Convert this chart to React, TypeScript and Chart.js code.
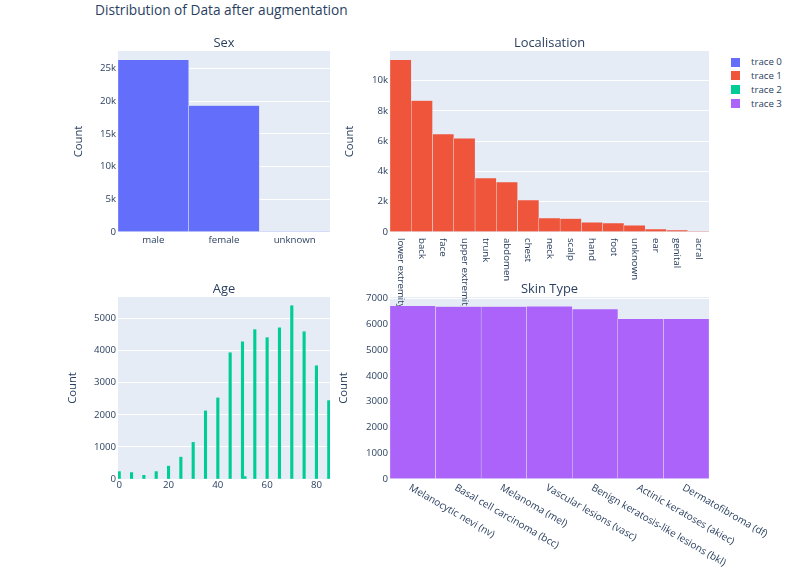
import React, { useEffect, useRef } from 'react';
import { Chart, registerables } from 'chart.js';

Chart.register(...registerables);

const FONT = "'Open Sans', verdana, arial, sans-serif";
const TEXT = '#2a3f5f';
const PLOT_BG = '#E5ECF6';
const TICK_SIZE = 9.66;
const ANGLED_TICK_SIZE = 10;
const SUBTITLE_SIZE = 12.9;
const AXIS_TITLE_SIZE = 11.27;
const MAIN_TITLE_SIZE = 13.7;

const mainTitle = 'Distribution of Data after augmentation';
const traceNames = ['trace 0', 'trace 1', 'trace 2', 'trace 3'];
const traceColors = ['#636efa', '#EF553B', '#00cc96', '#ab63fa'];
const subplotTitles = ['Sex', 'Localisation', 'Age', 'Skin Type'];

const sexLabels = ['male', 'female', 'unknown'];
const sexCounts = [26300, 19320, 80];
const sexYMax = 27650;
const sexYTicks = [0, 5000, 10000, 15000, 20000, 25000];

const locLabels = [
  'lower extremity', 'back', 'face', 'upper extremity', 'trunk', 'abdomen', 'chest',
  'neck', 'scalp', 'hand', 'foot', 'unknown', 'ear', 'genital', 'acral',
];
const locCounts = [11370, 8680, 6460, 6180, 3560, 3300, 2110, 920, 880, 640, 590, 440, 200, 130, 30];
const locYMax = 11950;
const locYTicks = [0, 2000, 4000, 6000, 8000, 10000];

const ageValues = [0, 5, 10, 15, 20, 25, 30, 35, 40, 45, 50, 51, 55, 60, 65, 70, 75, 80, 85];
const ageCounts = [230, 200, 115, 230, 400, 680, 1140, 2120, 2525, 3930, 4270, 75, 4650, 4400, 4710, 5395, 4585, 3525, 2440];
const ageXMin = -0.5;
const ageXMax = 85.5;
const ageXTicks = [0, 20, 40, 60, 80];
const ageYMax = 5667;
const ageYTicks = [0, 1000, 2000, 3000, 4000, 5000];

const skinLabels = [
  'Melanocytic nevi (nv)', 'Basal cell carcinoma (bcc)', 'Melanoma (mel)', 'Vascular lesions (vasc)',
  'Benign keratosis-like lesions (bkl)', 'Actinic keratoses (akiec)', 'Dermatofibroma (df)',
];
const skinCounts = [6728, 6690, 6690, 6700, 6598, 6222, 6222];
const skinYMax = 7066;
const skinYTicks = [0, 1000, 2000, 3000, 4000, 5000, 6000, 7000];

type Frame = {
  canvas: [number, number, number, number]; // left, top, width, height (page px)
  plot: [number, number, number, number]; // left, top, right, bottom (page px)
  yTitleX: number;
  z: number;
};

const frames: Frame[] = [
  { canvas: [60, 30, 280, 230], plot: [118, 51, 330, 232], yTitleX: 79, z: 1 },
  { canvas: [330, 30, 390, 276], plot: [390, 51, 709, 232], yTitleX: 350, z: 3 },
  { canvas: [60, 270, 280, 230], plot: [118, 297, 330, 479], yTitleX: 72.3, z: 1 },
  { canvas: [330, 270, 475, 306], plot: [390, 297, 709, 479], yTitleX: 344, z: 2 },
];

const kFormat = (v: number) => (v === 0 ? '0' : `${v / 1000}k`);
const plainFormat = (v: number) => `${v}`;

const bgPlugin = {
  id: 'plotBg',
  beforeDraw(chart: any) {
    const { ctx, chartArea: a } = chart;
    ctx.save();
    ctx.fillStyle = PLOT_BG;
    ctx.fillRect(a.left, a.top, a.right - a.left, a.bottom - a.top);
    ctx.restore();
  },
};

function subTitlePlugin(text: string) {
  return {
    id: 'subTitle',
    afterDraw(chart: any) {
      const { ctx, chartArea: a } = chart;
      ctx.save();
      ctx.font = `${SUBTITLE_SIZE}px ${FONT}`;
      ctx.fillStyle = TEXT;
      ctx.textAlign = 'center';
      ctx.textBaseline = 'middle';
      ctx.fillText(text, (a.left + a.right) / 2, a.top - 8);
      ctx.restore();
    },
  };
}

function rotatedLabelsPlugin(angle: number, dx: number, dy: number, size: number) {
  return {
    id: 'rotLabels',
    afterDraw(chart: any) {
      const { ctx, chartArea: a } = chart;
      const xs = chart.scales.x;
      const labels: string[] = chart.data.labels;
      ctx.save();
      ctx.font = `${size}px ${FONT}`;
      ctx.fillStyle = TEXT;
      ctx.textAlign = 'left';
      ctx.textBaseline = 'middle';
      labels.forEach((lab, i) => {
        const x = xs.getPixelForValue(i);
        ctx.save();
        ctx.translate(x + dx, a.bottom + dy);
        ctx.rotate(angle);
        ctx.fillText(lab, 0, 0);
        ctx.restore();
      });
      ctx.restore();
    },
  };
}

const fixedTicks = (values: number[]) => (s: any) => {
  s.ticks = values.map((v) => ({ value: v }));
};

function baseOptions(f: Frame, yMax: number, yTicks: number[], yFmt: (v: number) => string, xOpts: any) {
  const [cl, ct, cw, ch] = f.canvas;
  const [pl, pt, pr, pb] = f.plot;
  const yWidth = pl - cl;
  const xHeight = ct + ch - pb;
  const titleLine = AXIS_TITLE_SIZE * 1.2;
  return {
    responsive: false,
    animation: false,
    events: [],
    layout: { padding: { left: 0, top: pt - ct, right: cl + cw - pr, bottom: 0 } },
    plugins: { legend: { display: false }, title: { display: false }, tooltip: { enabled: false } },
    scales: {
      x: {
        ...xOpts,
        grid: { display: false, drawTicks: false },
        border: { display: false },
        afterFit: (s: any) => { s.height = xHeight; },
      },
      y: {
        type: 'linear',
        min: 0,
        max: yMax,
        afterBuildTicks: fixedTicks(yTicks),
        grid: { color: '#ffffff', lineWidth: 1, drawTicks: false },
        border: { display: false },
        ticks: {
          padding: 2,
          color: TEXT,
          font: { family: FONT, size: TICK_SIZE },
          callback: (v: any) => yFmt(Number(v)),
        },
        title: {
          display: true,
          text: 'Count',
          color: TEXT,
          font: { family: FONT, size: AXIS_TITLE_SIZE, lineHeight: 1.2 },
          padding: { top: f.yTitleX - cl - titleLine / 2, bottom: 0 },
        },
        afterFit: (s: any) => { s.width = yWidth; },
      },
    },
  };
}

const barStyle = (color: string) => ({
  backgroundColor: color,
  borderColor: PLOT_BG,
  borderWidth: 0.5,
  barPercentage: 1,
  categoryPercentage: 1,
});

function buildConfigs(): any[] {
  const catTicks = (show: boolean, pad: number) => ({
    type: 'category',
    ticks: {
      display: show,
      maxRotation: 0,
      minRotation: 0,
      autoSkip: false,
      padding: pad,
      color: TEXT,
      font: { family: FONT, size: TICK_SIZE },
    },
  });

  const sex = {
    type: 'bar',
    data: { labels: sexLabels, datasets: [{ label: traceNames[0], data: sexCounts, ...barStyle(traceColors[0]) }] },
    options: baseOptions(frames[0], sexYMax, sexYTicks, kFormat, catTicks(true, 2.4)),
    plugins: [bgPlugin, subTitlePlugin(subplotTitles[0])],
  };

  const loc = {
    type: 'bar',
    data: { labels: locLabels, datasets: [{ label: traceNames[1], data: locCounts, ...barStyle(traceColors[1]) }] },
    options: baseOptions(frames[1], locYMax, locYTicks, kFormat, catTicks(false, 0)),
    plugins: [bgPlugin, subTitlePlugin(subplotTitles[1]), rotatedLabelsPlugin(Math.PI / 2, 0, 6, TICK_SIZE)],
  };

  const age = {
    type: 'bar',
    data: {
      datasets: [{
        label: traceNames[2],
        data: ageValues.map((x, i) => ({ x, y: ageCounts[i] })),
        backgroundColor: traceColors[2],
        borderWidth: 0,
        barPercentage: 1,
        categoryPercentage: 1,
      }],
    },
    options: baseOptions(frames[2], ageYMax, ageYTicks, plainFormat, {
      type: 'linear',
      min: ageXMin,
      max: ageXMax,
      offset: false,
      afterBuildTicks: fixedTicks(ageXTicks),
      ticks: {
        maxRotation: 0,
        padding: 0.5,
        color: TEXT,
        font: { family: FONT, size: TICK_SIZE },
      },
    }),
    plugins: [bgPlugin, subTitlePlugin(subplotTitles[2])],
  };

  const skin = {
    type: 'bar',
    data: { labels: skinLabels, datasets: [{ label: traceNames[3], data: skinCounts, ...barStyle(traceColors[3]) }] },
    options: baseOptions(frames[3], skinYMax, skinYTicks, plainFormat, catTicks(false, 0)),
    plugins: [bgPlugin, subTitlePlugin(subplotTitles[3]), rotatedLabelsPlugin(Math.PI / 6, -3, 8, ANGLED_TICK_SIZE)],
  };

  return [sex, loc, age, skin];
}

function Panel({ frame, config }: { frame: Frame; config: any }) {
  const ref = useRef<HTMLCanvasElement>(null);
  useEffect(() => {
    const chart = new Chart(ref.current as HTMLCanvasElement, config);
    return () => chart.destroy();
  }, []);
  const [l, t, w, h] = frame.canvas;
  return (
    <canvas
      ref={ref}
      width={w}
      height={h}
      style={{ position: 'absolute', left: l, top: t, width: w, height: h, zIndex: frame.z }}
    />
  );
}

export default function App() {
  const configs = buildConfigs();
  return (
    <div style={{ position: 'absolute', left: 0, top: 0, width: 805, height: 576, background: '#ffffff', fontFamily: FONT, overflow: 'hidden' }}>
      <div style={{ position: 'absolute', left: 95, top: 1, fontSize: MAIN_TITLE_SIZE, lineHeight: '17px', color: TEXT, whiteSpace: 'nowrap' }}>
        {mainTitle}
      </div>
      {frames.map((f, i) => (
        <Panel key={i} frame={f} config={configs[i]} />
      ))}
      {traceNames.map((n, i) => (
        <div
          key={n}
          style={{ position: 'absolute', left: 731, top: 57 + i * 13.9, height: 10, display: 'flex', alignItems: 'center', zIndex: 5 }}
        >
          <span style={{ display: 'inline-block', width: 9, height: 9, background: traceColors[i] }} />
          <span style={{ marginLeft: 11, fontSize: TICK_SIZE, lineHeight: '10px', color: TEXT, whiteSpace: 'nowrap' }}>{n}</span>
        </div>
      ))}
    </div>
  );
}
